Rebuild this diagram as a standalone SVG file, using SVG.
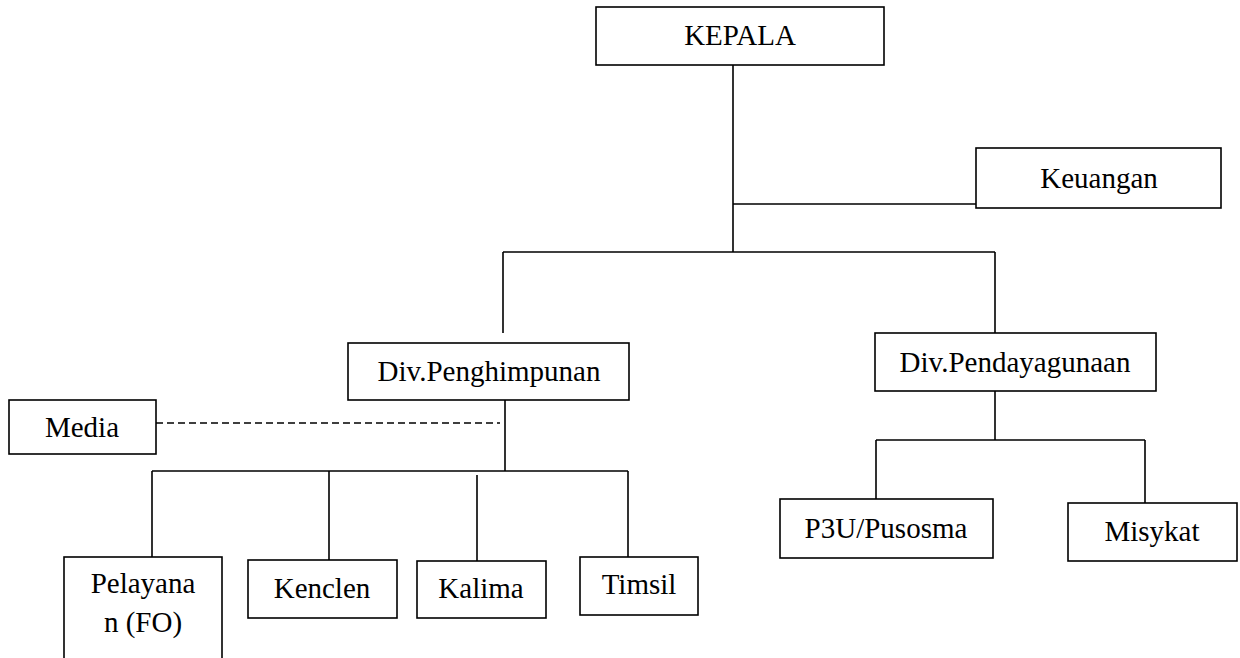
<svg xmlns="http://www.w3.org/2000/svg" width="1240" height="658" viewBox="0 0 1240 658">
<style>
.box{fill:#fff;stroke:#000;stroke-width:1.6}
.ln{fill:none;stroke:#000;stroke-width:1.6}
.dash{fill:none;stroke:#000;stroke-width:1.4;stroke-dasharray:7 4}
.t{font-family:"Times New Roman","Liberation Serif",serif;font-size:29px;fill:#000;text-anchor:middle}
</style>
<rect width="1240" height="658" fill="#fff"/>
<g id="connectors">
<path class="ln" d="M733 65V252M733 204H976M503 252H995M503 252V333M995 252V333"/>
<path class="ln" d="M505 400V471M152 471H628M152 471V557M329 471V560M477 475V561M628 471V557"/>
<path class="ln" d="M995 391V440M876 440H1145M876 440V499M1145 440V503"/>
<path class="dash" d="M156 423H500"/>
</g>
<g id="kepala"><rect class="box" x="596" y="7" width="288" height="58"/><text class="t" x="740" y="45">KEPALA</text></g>
<g id="keuangan"><rect class="box" x="976" y="148" width="245" height="60"/><text class="t" x="1099" y="188">Keuangan</text></g>
<g id="div-penghimpunan"><rect class="box" x="348" y="343" width="281" height="57"/><text class="t" x="489" y="381">Div.Penghimpunan</text></g>
<g id="div-pendayagunaan"><rect class="box" x="875" y="333" width="281" height="58"/><text class="t" x="1015" y="372">Div.Pendayagunaan</text></g>
<g id="media"><rect class="box" x="9" y="400" width="147" height="54"/><text class="t" x="82" y="437">Media</text></g>
<g id="pelayanan"><rect class="box" x="64" y="557" width="158" height="110"/><text class="t" x="143" y="593">Pelayana</text><text class="t" x="143" y="632">n (FO)</text></g>
<g id="kenclen"><rect class="box" x="248" y="560" width="149" height="58"/><text class="t" x="322" y="598">Kenclen</text></g>
<g id="kalima"><rect class="box" x="417" y="561" width="129" height="57"/><text class="t" x="481" y="598">Kalima</text></g>
<g id="timsil"><rect class="box" x="580" y="557" width="118" height="58"/><text class="t" x="639" y="594">Timsil</text></g>
<g id="p3u"><rect class="box" x="780" y="499" width="213" height="59"/><text class="t" x="886" y="538">P3U/Pusosma</text></g>
<g id="misykat"><rect class="box" x="1068" y="503" width="169" height="58"/><text class="t" x="1152" y="541">Misykat</text></g>
</svg>
